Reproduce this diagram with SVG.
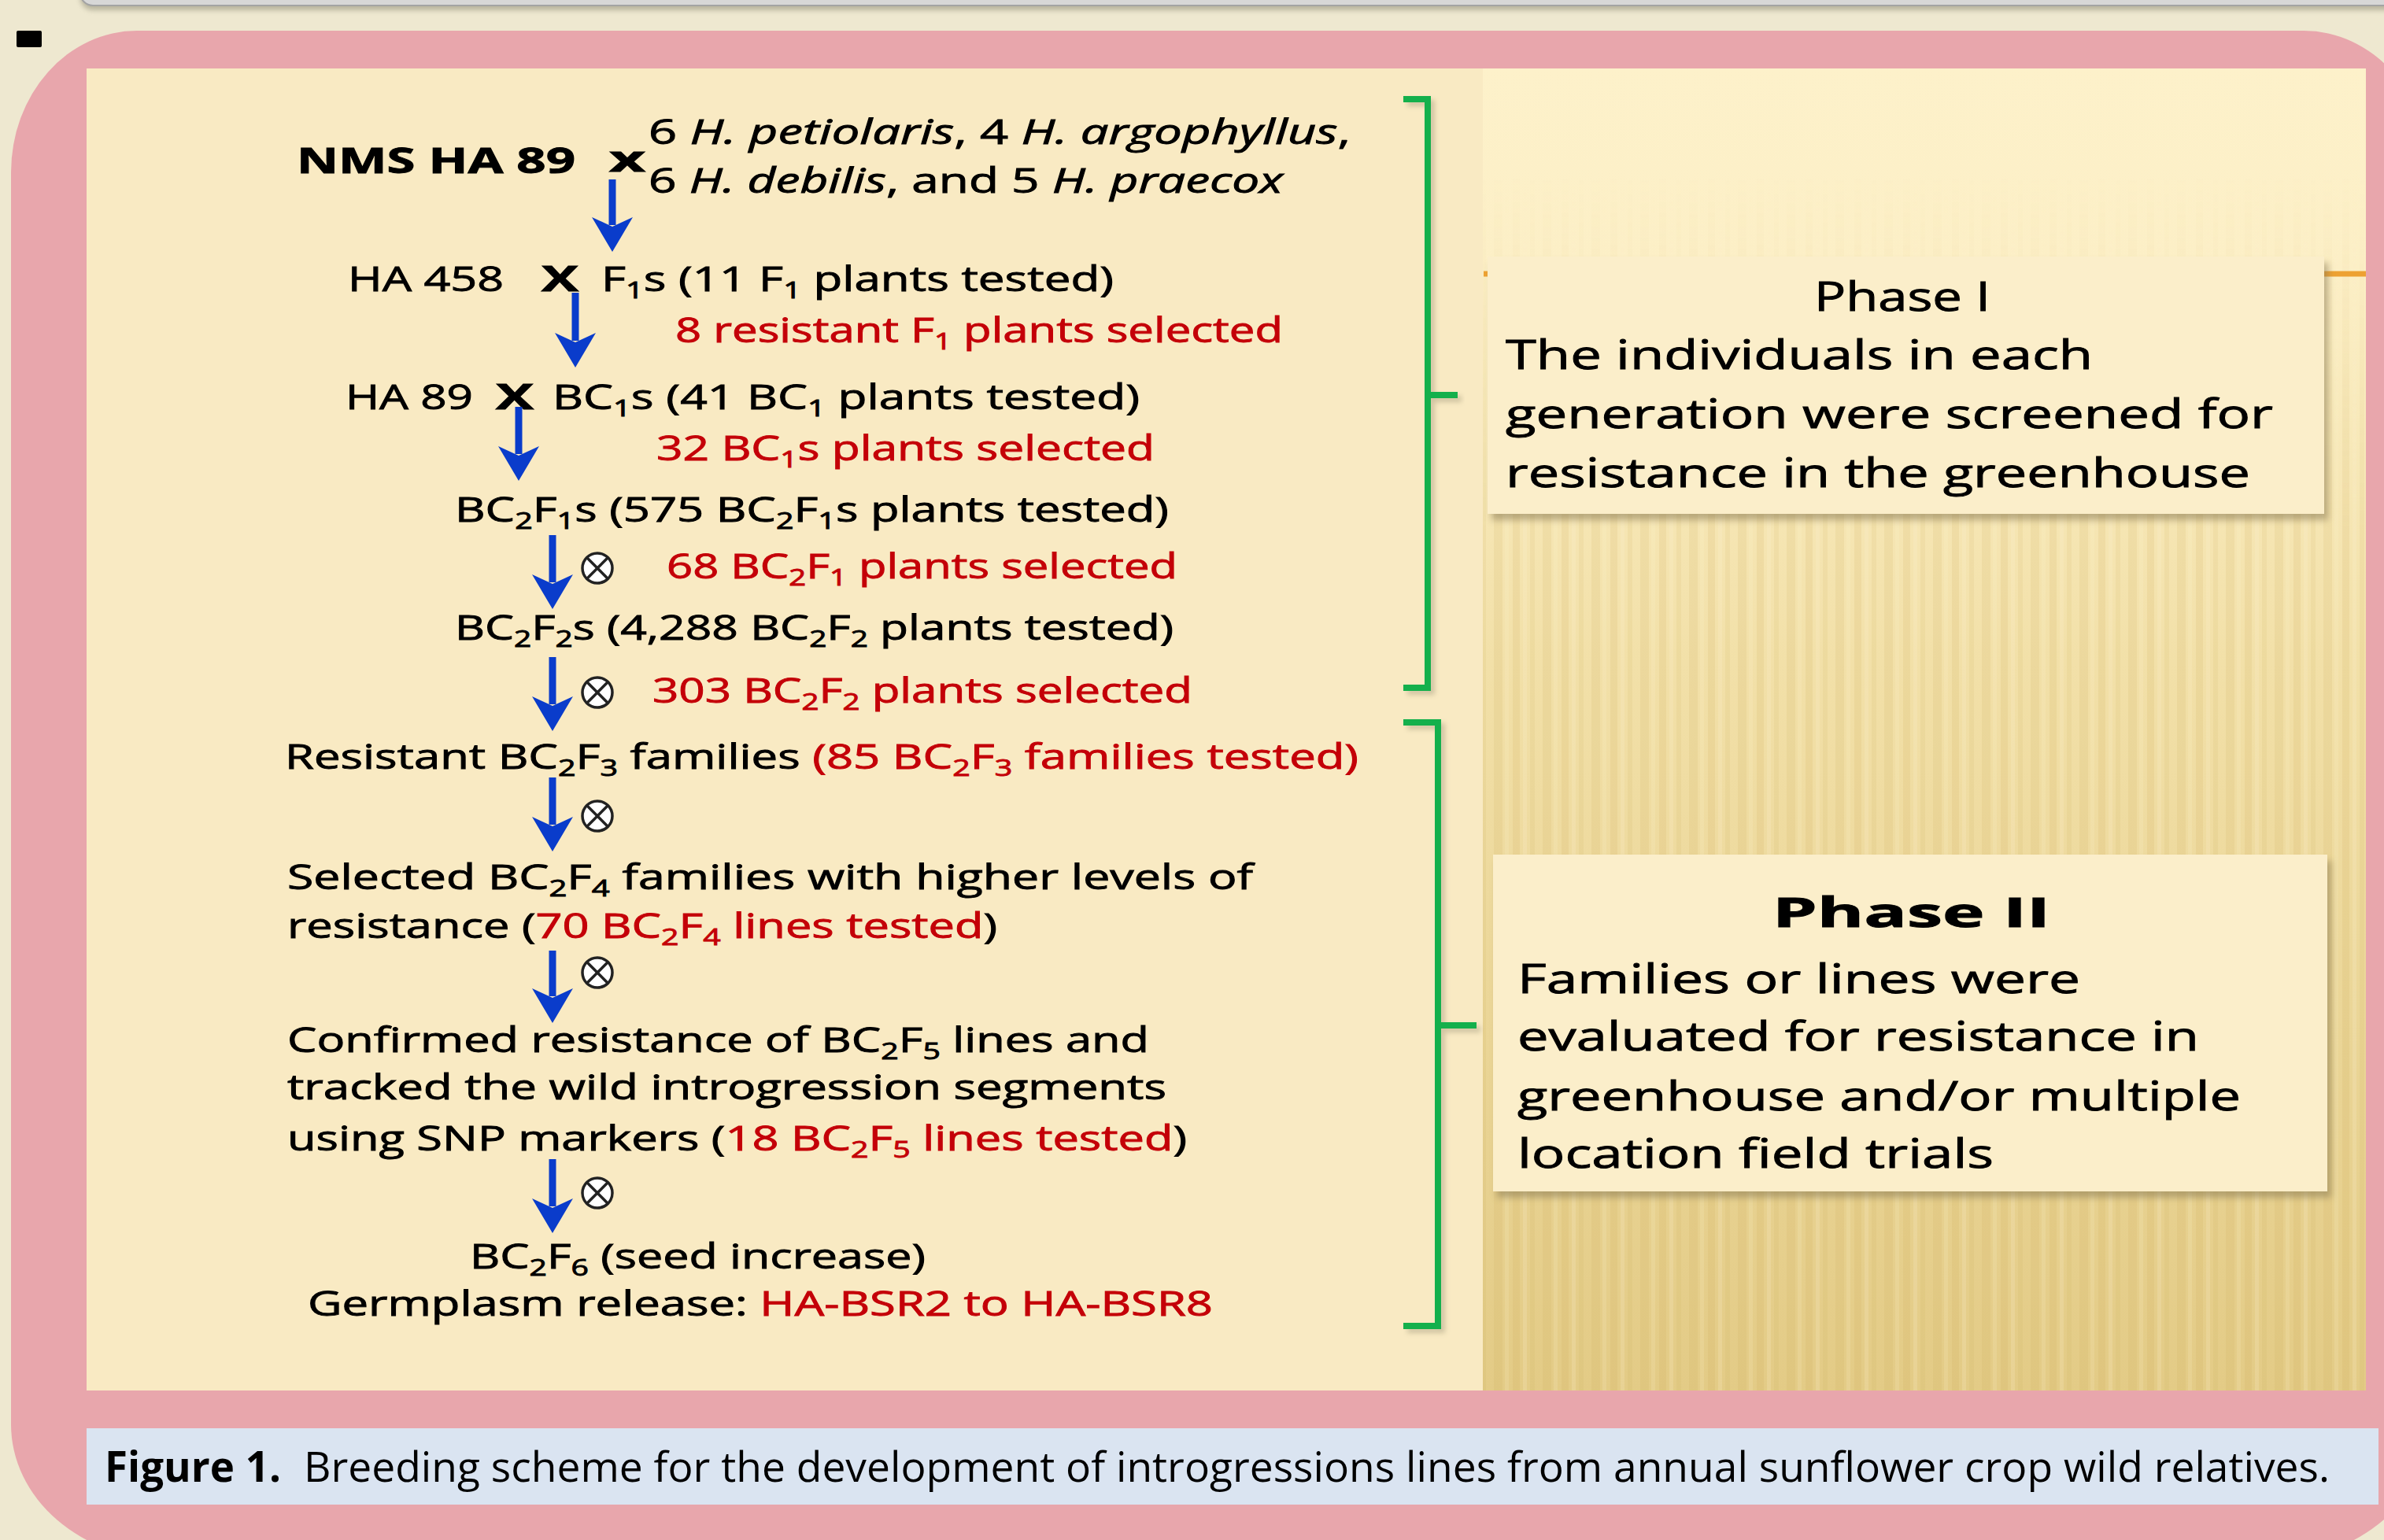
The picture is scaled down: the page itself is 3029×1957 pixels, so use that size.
<svg xmlns="http://www.w3.org/2000/svg" width="3029" height="1957" viewBox="0 0 3029 1957">
<style>
.t{font-family:"Open Sans","Liberation Sans",sans-serif;font-size:44px;fill:#000;stroke:#000;stroke-width:0.9px}
.r{fill:#C40008;stroke:#C40008}
.s{font-size:29px;baseline-shift:-9px}
.i{font-style:italic}
.bd{font-weight:bold}
.ph{font-family:"Open Sans","Liberation Sans",sans-serif;font-size:52px;fill:#000;stroke:#000;stroke-width:0.9px}
.cap{font-family:"Open Sans","Liberation Sans",sans-serif;font-size:53px;fill:#000}
.arrow{stroke:#0A3CCB;stroke-width:9;fill:none;marker-end:url(#ah)}
.br{stroke:#14B04C;stroke-width:8;fill:none}
.brs{stroke:#9C9478;stroke-width:8;fill:none;opacity:.45}
.self circle{fill:#FFFFFF;stroke:#222;stroke-width:3.5}
.self line{stroke:#222;stroke-width:3.5}
</style>
<defs>
<marker id="ah" markerUnits="userSpaceOnUse" markerWidth="44" markerHeight="52" viewBox="0 0 44 52" refX="10" refY="26" orient="auto">
<path d="M0,0 L44,26 L0,52 L12,26 Z" fill="#0A3CCB"/>
</marker>
<linearGradient id="gold" x1="0" y1="0" x2="0" y2="1">
<stop offset="0" stop-color="#FDF1CA"/>
<stop offset="0.15" stop-color="#FCEFC6"/>
<stop offset="0.45" stop-color="#F2E0A8"/>
<stop offset="1" stop-color="#E3CB86"/>
</linearGradient>
<pattern id="stripes" patternUnits="userSpaceOnUse" width="62" height="100">
<rect x="0" y="0" width="9" height="100" fill="#C7A550" opacity="0.13"/>
<rect x="22" y="0" width="6" height="100" fill="#C7A550" opacity="0.10"/>
<rect x="38" y="0" width="11" height="100" fill="#C7A550" opacity="0.12"/>
<rect x="13" y="0" width="5" height="100" fill="#FFF6D8" opacity="0.18"/>
<rect x="52" y="0" width="5" height="100" fill="#FFF6D8" opacity="0.15"/>
</pattern>
<linearGradient id="fadeg" x1="0" y1="0" x2="0" y2="1">
<stop offset="0" stop-color="#000"/>
<stop offset="0.08" stop-color="#000"/>
<stop offset="0.35" stop-color="#fff"/>
<stop offset="1" stop-color="#fff"/>
</linearGradient>
<mask id="fade" maskContentUnits="userSpaceOnUse">
<rect x="1884" y="87" width="1122" height="1680" fill="url(#fadeg)"/>
</mask>
<filter id="blur" x="-5%" y="-50%" width="110%" height="200%"><feGaussianBlur stdDeviation="3"/></filter>
<filter id="sh" x="-5%" y="-10%" width="110%" height="130%"><feGaussianBlur stdDeviation="4"/></filter>
</defs>

<g id="background">
<rect x="0" y="0" width="3029" height="1957" fill="#EEE8D0"/>
<rect x="102" y="-32" width="3000" height="45" rx="16" fill="#8C8A76" opacity="0.55" filter="url(#blur)"/>
<rect x="102" y="-40" width="3000" height="47" rx="16" fill="#D7D7D7" stroke="#A3A3A3" stroke-width="2"/>
<rect x="21" y="39" width="32" height="21" rx="2" fill="#000"/>
<path d="M174 39 H2927 A160 180 0 0 1 3087 219 V1810 A200 172 0 0 1 2887 1982 H214 A200 172 0 0 1 14 1810 V219 A160 180 0 0 1 174 39 Z" fill="#E8A6AC"/>
<rect x="110" y="87" width="1774" height="1680" fill="#F9EAC3"/>
<rect x="1884" y="87" width="1122" height="1680" fill="url(#gold)"/>
<rect x="1884" y="87" width="1122" height="1680" fill="url(#stripes)" mask="url(#fade)"/>
<line x1="1885" y1="348" x2="3006" y2="348" stroke="#EDA132" stroke-width="7"/>
<rect x="110" y="1815" width="2912" height="97" fill="#DAE4F1"/>
</g>

<g id="phase1-box">
<rect x="1895" y="334" width="1063" height="327" fill="#8A7C55" opacity="0.55" filter="url(#sh)"/>
<rect x="1890" y="326" width="1063" height="327" fill="#FBEECA"/>
<text class="ph" x="2417" y="395" text-anchor="middle" textLength="224" lengthAdjust="spacingAndGlyphs">Phase I</text>
<text class="ph" x="1913" y="469" textLength="746" lengthAdjust="spacingAndGlyphs">The individuals  in  each</text>
<text class="ph" x="1913" y="544" textLength="975" lengthAdjust="spacingAndGlyphs">generation were screened for</text>
<text class="ph" x="1913" y="619" textLength="946" lengthAdjust="spacingAndGlyphs">resistance in the greenhouse</text>
</g>

<g id="phase2-box">
<rect x="1902" y="1094" width="1060" height="428" fill="#8A7C55" opacity="0.55" filter="url(#sh)"/>
<rect x="1897" y="1086" width="1060" height="428" fill="#FBEECA"/>
<text class="ph bd" x="2252" y="1178" font-size="76" textLength="353" lengthAdjust="spacingAndGlyphs">Phase II</text>
<text class="ph" x="1928" y="1262" textLength="715" lengthAdjust="spacingAndGlyphs">Families or lines were</text>
<text class="ph" x="1928" y="1335" textLength="866" lengthAdjust="spacingAndGlyphs">evaluated for resistance in</text>
<text class="ph" x="1928" y="1411" textLength="919" lengthAdjust="spacingAndGlyphs">greenhouse and/or multiple</text>
<text class="ph" x="1928" y="1484" textLength="605" lengthAdjust="spacingAndGlyphs">location  field trials</text>
</g>

<g id="node-parents">
<text class="t bd" x="377" y="220" font-size="48" textLength="354" lengthAdjust="spacingAndGlyphs">NMS HA 89</text>
<text class="t bd" x="774" y="218" textLength="46" lengthAdjust="spacingAndGlyphs">x</text>
<text class="t" x="824" y="183" font-size="40" textLength="892" lengthAdjust="spacingAndGlyphs">6 <tspan class="i">H. petiolaris</tspan>, 4 <tspan class="i">H. argophyllus</tspan>,</text>
<text class="t" x="824" y="245" font-size="40" textLength="806" lengthAdjust="spacingAndGlyphs">6 <tspan class="i">H. debilis</tspan>, and 5 <tspan class="i">H. praecox</tspan></text>
</g>

<g id="node-f1">
<text class="t" x="442" y="370" textLength="198" lengthAdjust="spacingAndGlyphs">HA 458</text>
<text class="t bd" x="688" y="370" textLength="47" lengthAdjust="spacingAndGlyphs">X</text>
<text class="t" x="764" y="370" textLength="651" lengthAdjust="spacingAndGlyphs">F<tspan class="s">1</tspan>s (11 F<tspan class="s">1</tspan> plants tested)</text>
<text class="t r" x="858" y="435" textLength="772" lengthAdjust="spacingAndGlyphs">8 resistant F<tspan class="s">1</tspan> plants selected</text>
</g>

<g id="node-bc1">
<text class="t" x="439" y="520" textLength="162" lengthAdjust="spacingAndGlyphs">HA 89</text>
<text class="t bd" x="630" y="520" textLength="48" lengthAdjust="spacingAndGlyphs">X</text>
<text class="t" x="702" y="520" textLength="746" lengthAdjust="spacingAndGlyphs">BC<tspan class="s">1</tspan>s (41 BC<tspan class="s">1</tspan> plants tested)</text>
<text class="t r" x="834" y="585" textLength="633" lengthAdjust="spacingAndGlyphs">32 BC<tspan class="s">1</tspan>s plants selected</text>
</g>

<g id="node-bc2f1">
<text class="t" x="578" y="663" textLength="907" lengthAdjust="spacingAndGlyphs">BC<tspan class="s">2</tspan>F<tspan class="s">1</tspan>s (575 BC<tspan class="s">2</tspan>F<tspan class="s">1</tspan>s plants tested)</text>
<text class="t r" x="847" y="735" textLength="649" lengthAdjust="spacingAndGlyphs">68 BC<tspan class="s">2</tspan>F<tspan class="s">1</tspan> plants selected</text>
</g>

<g id="node-bc2f2">
<text class="t" x="578" y="813" textLength="913" lengthAdjust="spacingAndGlyphs">BC<tspan class="s">2</tspan>F<tspan class="s">2</tspan>s (4,288 BC<tspan class="s">2</tspan>F<tspan class="s">2</tspan> plants tested)</text>
<text class="t r" x="829" y="893" textLength="686" lengthAdjust="spacingAndGlyphs">303 BC<tspan class="s">2</tspan>F<tspan class="s">2</tspan> plants selected</text>
</g>

<g id="node-bc2f3">
<text class="t" x="362" y="977" textLength="1364" lengthAdjust="spacingAndGlyphs">Resistant BC<tspan class="s">2</tspan>F<tspan class="s">3</tspan> families <tspan class="r">(85 BC<tspan class="s">2</tspan>F<tspan class="s">3</tspan> families tested)</tspan></text>
</g>

<g id="node-bc2f4">
<text class="t" x="365" y="1130" textLength="1227" lengthAdjust="spacingAndGlyphs">Selected BC<tspan class="s">2</tspan>F<tspan class="s">4</tspan> families with higher levels of</text>
<text class="t" x="365" y="1192" textLength="902" lengthAdjust="spacingAndGlyphs">resistance (<tspan class="r">70 BC<tspan class="s">2</tspan>F<tspan class="s">4</tspan> lines tested</tspan>)</text>
</g>

<g id="node-bc2f5">
<text class="t" x="365" y="1337" textLength="1095" lengthAdjust="spacingAndGlyphs">Confirmed resistance of BC<tspan class="s">2</tspan>F<tspan class="s">5</tspan> lines and</text>
<text class="t" x="365" y="1397" textLength="1117" lengthAdjust="spacingAndGlyphs">tracked the wild introgression  segments</text>
<text class="t" x="365" y="1462" textLength="1143" lengthAdjust="spacingAndGlyphs">using SNP  markers (<tspan class="r">18 BC<tspan class="s">2</tspan>F<tspan class="s">5</tspan> lines tested</tspan>)</text>
</g>

<g id="node-bc2f6">
<text class="t" x="597" y="1612" textLength="579" lengthAdjust="spacingAndGlyphs">BC<tspan class="s">2</tspan>F<tspan class="s">6</tspan> (seed increase)</text>
<text class="t" x="391" y="1672" textLength="1150" lengthAdjust="spacingAndGlyphs">Germplasm release: <tspan class="r">HA-BSR2  to HA-BSR8</tspan></text>
</g>

<g id="connectors">
<line class="arrow" x1="778" y1="228" x2="778" y2="286"/>
<line class="arrow" x1="731" y1="372" x2="731" y2="433"/>
<line class="arrow" x1="659" y1="517" x2="659" y2="577"/>
<line class="arrow" x1="702" y1="680" x2="702" y2="740"/>
<line class="arrow" x1="702" y1="835" x2="702" y2="895"/>
<line class="arrow" x1="702" y1="988" x2="702" y2="1048"/>
<line class="arrow" x1="702" y1="1208" x2="702" y2="1266"/>
<line class="arrow" x1="702" y1="1473" x2="702" y2="1533"/>
<g class="self">
<g transform="translate(759 722)"><circle r="19"/><line x1="-13.4" y1="-13.4" x2="13.4" y2="13.4"/><line x1="-13.4" y1="13.4" x2="13.4" y2="-13.4"/></g>
<g transform="translate(759 880)"><circle r="19"/><line x1="-13.4" y1="-13.4" x2="13.4" y2="13.4"/><line x1="-13.4" y1="13.4" x2="13.4" y2="-13.4"/></g>
<g transform="translate(759 1037)"><circle r="19"/><line x1="-13.4" y1="-13.4" x2="13.4" y2="13.4"/><line x1="-13.4" y1="13.4" x2="13.4" y2="-13.4"/></g>
<g transform="translate(759 1236)"><circle r="19"/><line x1="-13.4" y1="-13.4" x2="13.4" y2="13.4"/><line x1="-13.4" y1="13.4" x2="13.4" y2="-13.4"/></g>
<g transform="translate(759 1516)"><circle r="19"/><line x1="-13.4" y1="-13.4" x2="13.4" y2="13.4"/><line x1="-13.4" y1="13.4" x2="13.4" y2="-13.4"/></g>
</g>
<path class="brs" d="M1788 131 H1819 V507 H1857 M1819 507 V879 H1788" filter="url(#blur)"/>
<path class="br" d="M1783 126 H1814 V502 H1852 M1814 502 V874 H1783"/>
<path class="brs" d="M1788 923 H1832 V1308 H1881 M1832 1308 V1690 H1788" filter="url(#blur)"/>
<path class="br" d="M1783 918 H1827 V1303 H1876 M1827 1303 V1685 H1783"/>
</g>

<g id="caption">
<text class="cap bd" x="133" y="1883" textLength="224" lengthAdjust="spacingAndGlyphs">Figure 1.</text>
<text class="cap" x="386" y="1883" textLength="2574" lengthAdjust="spacingAndGlyphs">Breeding scheme for the development of introgressions lines from annual sunflower crop wild relatives.</text>
</g>
</svg>
